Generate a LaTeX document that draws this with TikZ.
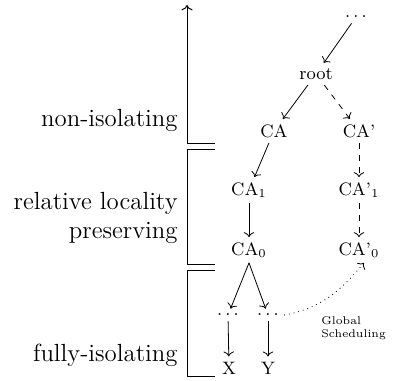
\documentclass[tikz,border=0pt]{standalone}
\usetikzlibrary{arrows.meta}
\begin{document}
\begin{tikzpicture}[x=0.5pt,y=-0.5pt,
  tn/.style={font=\small, inner sep=2.5pt},
  lbl/.style={font=\fontsize{12.4}{14.5}\selectfont, align=right, anchor=east, inner sep=0pt},
  conn/.style={->},
  dconn/.style={->, dashed},
  brk/.style={line width=0.5pt}]
\useasboundingbox (0,0) rectangle (408,381);
% tree
\node[tn] (top) at (356,17) {$\ldots$};
\node[tn] (root) at (316,74) {root};
\node[tn] (ca) at (274,131) {CA};
\node[tn] (cap) at (359,131) {CA'};
\node[tn] (ca1) at (249,190) {CA$_1$};
\node[tn] (cap1) at (359,190) {CA'$_1$};
\node[tn] (ca0) at (249,250) {CA$_0$};
\node[tn] (cap0) at (359,250) {CA'$_0$};
\node[tn] (d1) at (228,315) {$\ldots$};
\node[tn] (d2) at (268,315) {$\ldots$};
\node[tn] (x) at (229,368) {X};
\node[tn] (y) at (268,368) {Y};
\node[font=\fontsize{5.6}{6.5}\selectfont, align=left, anchor=west, inner sep=0pt] (gs) at (321,328) {Global\\Scheduling};
\draw[conn] (top) -- (root);
\draw[conn] (root) -- (ca);
\draw[dconn] (root) -- (cap);
\draw[conn] (ca) -- (ca1);
\draw[conn] (ca1) -- (ca0);
\draw[dconn] (cap) -- (cap1);
\draw[dconn] (cap1) -- (cap0);
\draw[conn] (ca0.south) -- (d1);
\draw[conn] (ca0.south) -- (d2);
\draw[conn] (d1) -- (x);
\draw[conn] (d2) -- (y);
\draw[->, dotted] (d2.east) to[out=10, in=-130] ([xshift=2.5pt]cap0.south);
% left brackets
\draw[->, brk] (215,143) -- (187,143) -- (187,5);
\draw[brk] (215,149) -- (187,149) -- (187,264) -- (215,264);
\draw[brk] (215,270) -- (187,270) -- (187,376) -- (215,376);
% labels
\node[lbl] (l1) at (178,120) {non-isolating};
\node[lbl] (l2) at (178,218) {relative locality\\preserving};
\node[lbl] (l3) at (178,355) {fully-isolating};
\end{tikzpicture}
\end{document}
